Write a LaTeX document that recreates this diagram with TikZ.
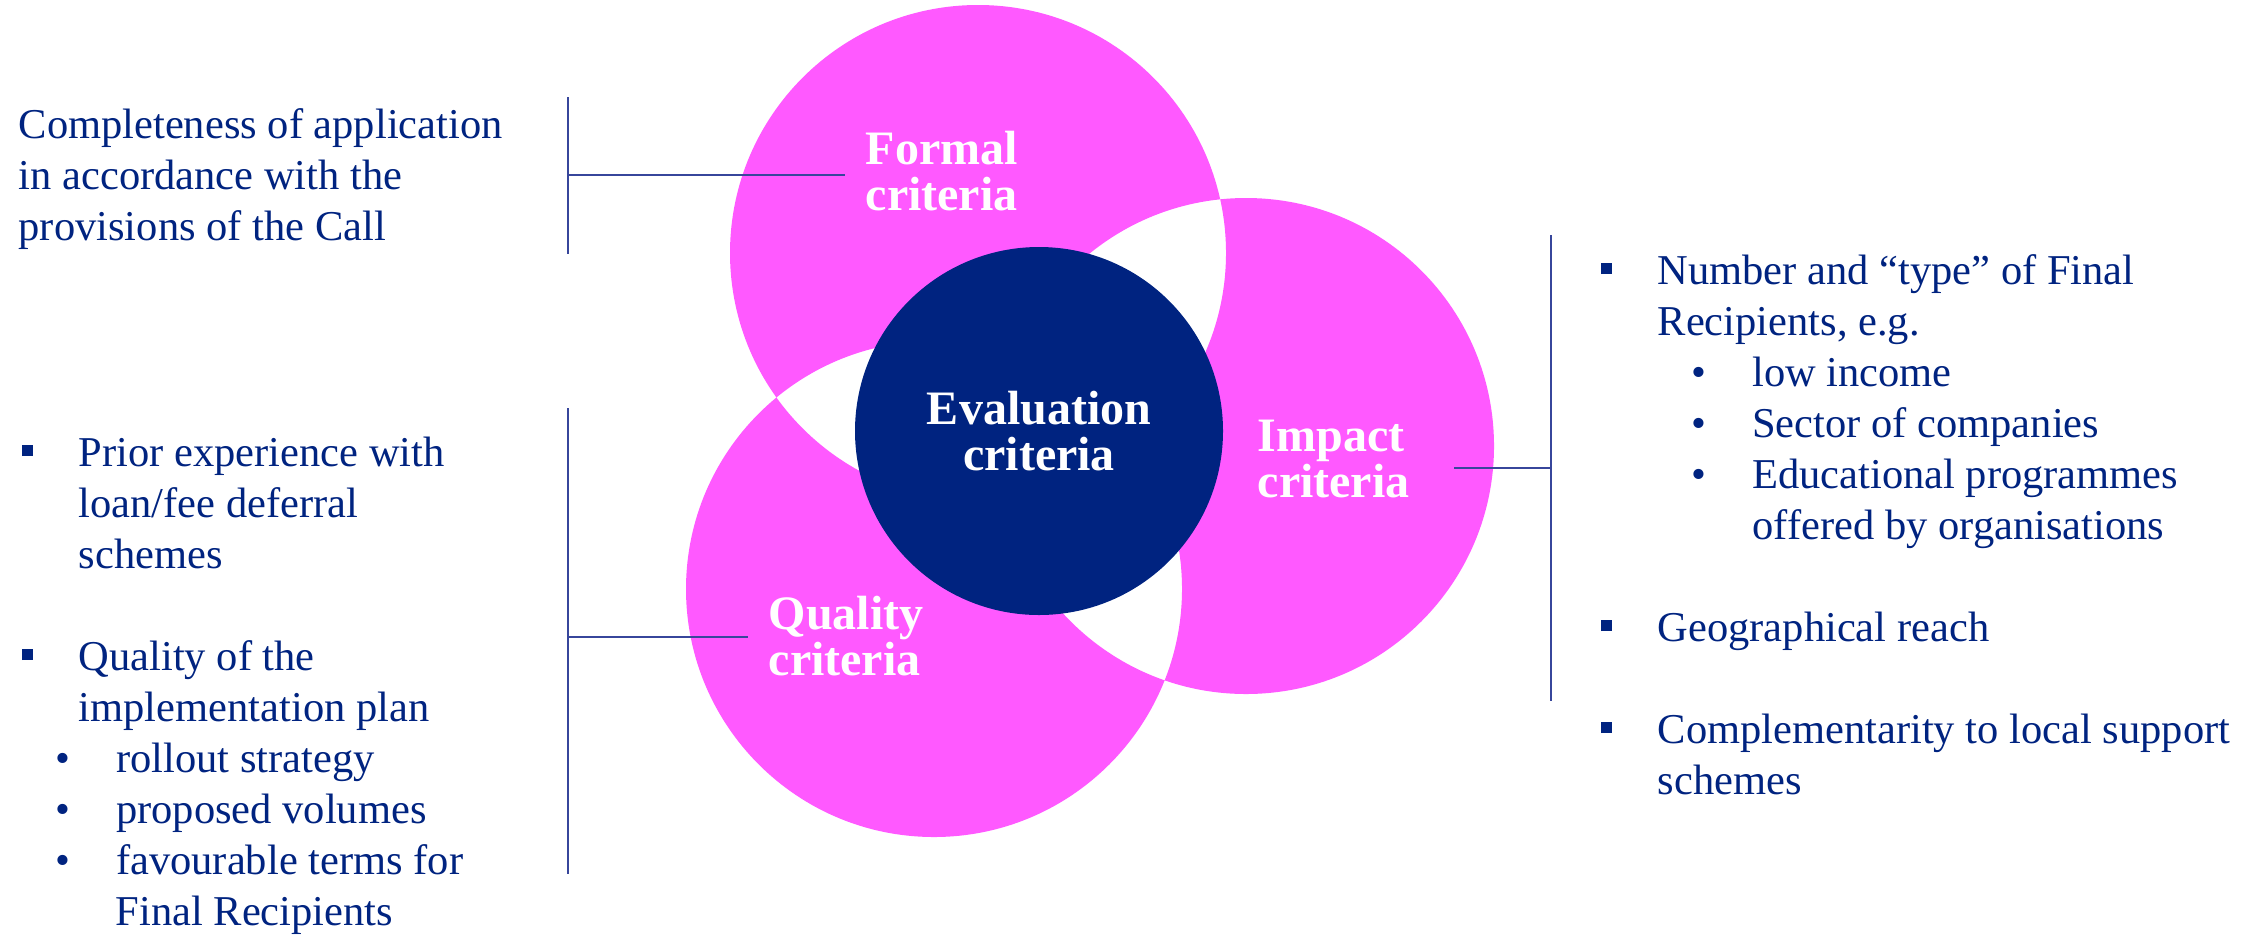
\documentclass[tikz,border=0pt]{standalone}
\usepackage{fontspec}
\setmainfont{Liberation Serif}
\usepackage{tikz}

\definecolor{critpink}{RGB}{255,89,255}
\definecolor{evalblue}{RGB}{0,35,128}
\definecolor{linkblue}{RGB}{55,70,155}

\tikzset{
	crit/.style={text=white, font=\bfseries\fontsize{4.8mm}{4.55mm}\selectfont, align=left, anchor=base west, inner xsep=2mm, inner ysep=0pt},
	bodytext/.style={text=evalblue, font=\fontsize{4.25mm}{5.1mm}\selectfont, align=left, anchor=base west, inner sep=0pt},
	bracket/.style={draw=linkblue, line width=0.6pt}
}

\begin{document}
\begin{tikzpicture}[x=0.1mm, y=-0.1mm]
	% Define radii and bullets
	\def \rcrit {248}
	\def \sqb {\makebox[5.7mm][l]{\rule[1mm]{1.1mm}{1.1mm}}}
	\def \dotb #1{\hspace*{#1}\makebox[6.1mm][l]{\textbullet}}
	\useasboundingbox (0,0) rectangle (2262,934);
	% Draw criteria circles, overlaps stay white
	\coordinate (formal) at (978,253);
	\coordinate (impact) at (1246,446);
	\coordinate (quality) at (934,589);
	\fill[critpink, even odd rule] (formal) circle (\rcrit) (impact) circle (\rcrit) (quality) circle (\rcrit);
	% Draw centre circle
	\node[circle, fill=evalblue, minimum size=36.8mm, inner sep=0pt, text=white, align=center,
		font=\bfseries\fontsize{4.8mm}{4.65mm}\selectfont] (eval) at (1039,431) {Evaluation\\criteria};
	% Draw circle labels (placed at the last baseline)
	\node[crit] (formallab) at (845,210) {Formal\\criteria};
	\node[crit] (impactlab) at (1237,497) {Impact\\criteria};
	\node[crit] (qualitylab) at (748,675) {Quality\\criteria};
	% Draw brackets
	\coordinate (ftop) at (568,97);
	\coordinate (fbot) at (568,254);
	\coordinate (fmid) at (568,175);
	\draw[bracket] (ftop) -- (fbot);
	\draw[bracket] (fmid) -- (fmid -| formallab.west);
	\coordinate (qtop) at (568,408);
	\coordinate (qbot) at (568,874);
	\coordinate (qmid) at (568,637);
	\draw[bracket] (qtop) -- (qbot);
	\draw[bracket] (qmid) -- (qmid -| qualitylab.west);
	\coordinate (itop) at (1551,235);
	\coordinate (ibot) at (1551,701);
	\coordinate (imid) at (1551,468);
	\coordinate (iend) at (1454,468);
	\draw[bracket] (itop) -- (ibot);
	\draw[bracket] (imid) -- (iend);
	% Draw criteria texts
	\node[bodytext] (formaltext) at (18,240) {Completeness of application\\in accordance with the\\provisions of the Call};
	\node[bodytext] (qualitytext) at (21,925) {\sqb Prior experience with\\
		\hspace*{5.7mm}loan/fee deferral\\
		\hspace*{5.7mm}schemes\\[5.1mm]
		\sqb Quality of the\\
		\hspace*{5.7mm}implementation plan\\
		\dotb{3.35mm}rollout strategy\\
		\dotb{3.35mm}proposed volumes\\
		\dotb{3.35mm}favourable terms for\\
		\hspace*{9.4mm}Final Recipients};
	\node[bodytext] (impacttext) at (1600,794) {\sqb Number and “type” of Final\\
		\hspace*{5.7mm}Recipients, e.g.\\
		\dotb{9.05mm}low income\\
		\dotb{9.05mm}Sector of companies\\
		\dotb{9.05mm}Educational programmes\\
		\hspace*{15.2mm}offered by organisations\\[5.1mm]
		\sqb Geographical reach\\[5.1mm]
		\sqb Complementarity to local support\\
		\hspace*{5.7mm}schemes};
\end{tikzpicture}
\end{document}
